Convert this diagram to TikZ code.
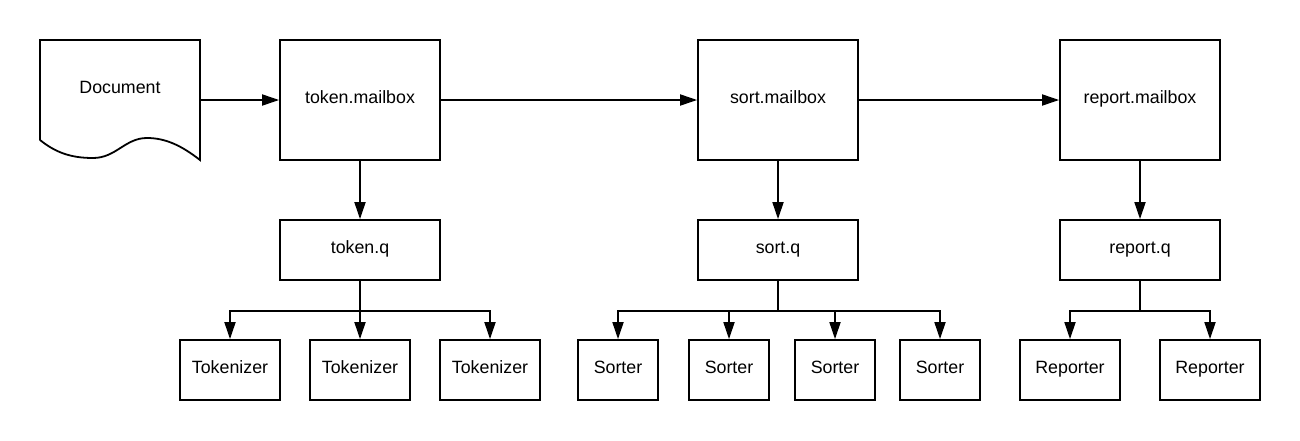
\documentclass[tikz,border=0pt]{standalone}
\usepackage{fontspec}
\setmainfont{Liberation Sans}
\usetikzlibrary{arrows.meta}
\begin{document}
\begin{tikzpicture}[x=1pt,y=-1pt,
  every node/.style={font=\fontsize{17.8}{21}\selectfont, inner sep=0pt, text height=12.7pt, text depth=5.1pt},
  boxnode/.style={draw, line width=1.8pt, minimum width=#1, fill=white},
  bigbox/.style={boxnode=160, minimum height=120},
  qbox/.style={boxnode=160, minimum height=60},
  workbox/.style={boxnode=#1, minimum height=60},
  conn/.style={line width=1.8pt, -{Triangle[length=17pt,width=11pt]}},
  branch/.style={line width=1.8pt, -{Triangle[length=17pt,width=11pt]}}
]
\useasboundingbox (0,0) rectangle (1300,440);
\fill[white] (0,0) rectangle (1300,440);

% Document shape
\draw[line width=1.8pt, line join=miter] (40,140) -- (40,40) -- (200,40) -- (200,160)
  .. controls (182,146) and (166,138) .. (147,138)
  .. controls (125,138) and (116,158) .. (93,158)
  .. controls (70,158) and (55,152) .. (40,140);
\node[minimum width=160, minimum height=120] (doc) at (120,100) {};
\node (doclabel) at (120,90) {Document};

% mailboxes
\node[bigbox] (tm) at (360,100) {token.mailbox};
\node[bigbox] (sm) at (778,100) {sort.mailbox};
\node[bigbox] (rm) at (1140,100) {report.mailbox};

% queues
\node[qbox] (tq) at (360,250) {token.q};
\node[qbox] (sq) at (778,250) {sort.q};
\node[qbox] (rq) at (1140,250) {report.q};

% workers
\node[workbox=100] (t1) at (230,370) {Tokenizer};
\node[workbox=100] (t2) at (360,370) {Tokenizer};
\node[workbox=100] (t3) at (490,370) {Tokenizer};

\node[workbox=80] (s1) at (618,370) {Sorter};
\node[workbox=80] (s2) at (729,370) {Sorter};
\node[workbox=80] (s3) at (835,370) {Sorter};
\node[workbox=80] (s4) at (940,370) {Sorter};

\node[workbox=100] (r1) at (1070,370) {Reporter};
\node[workbox=100] (r2) at (1210,370) {Reporter};

% horizontal flow
\draw[conn] (doc.east) -- (tm.west);
\draw[conn] (tm.east) -- (sm.west);
\draw[conn] (sm.east) -- (rm.west);

% mailbox to queue
\draw[conn] (tm.south) -- (tq.north);
\draw[conn] (sm.south) -- (sq.north);
\draw[conn] (rm.south) -- (rq.north);

% branches
\foreach \c in {t1,t2,t3} \draw[branch] (tq.south) -- ++(0,30) -| (\c.north);
\foreach \c in {s1,s2,s3,s4} \draw[branch] (sq.south) -- ++(0,30) -| (\c.north);
\foreach \c in {r1,r2} \draw[branch] (rq.south) -- ++(0,30) -| (\c.north);
\end{tikzpicture}
\end{document}
